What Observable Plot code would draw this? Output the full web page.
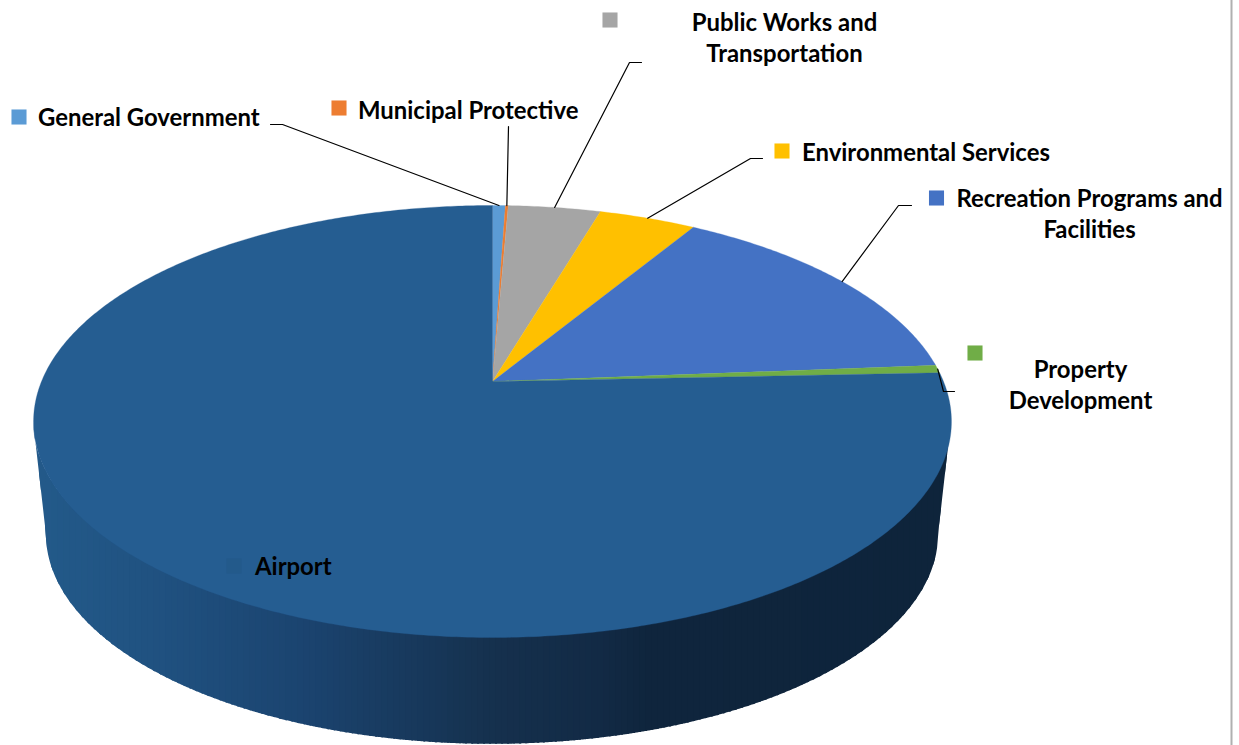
<!DOCTYPE html>
<html>
<head>
<meta charset="utf-8">
<script src="https://cdn.jsdelivr.net/npm/d3@7"></script>
<script src="https://cdn.jsdelivr.net/npm/@observablehq/plot@0.6"></script>
<style>
html,body{margin:0;padding:0;background:#fff;overflow:hidden}
svg{display:block}
</style>
</head>
<body>
<div id="chart"></div>
<script>
// Data: share of the total (percent), clockwise from 12 o'clock
const categories = ["General Government","Municipal Protective","Public Works and\nTransportation","Environmental Services","Recreation Programs and\nFacilities","Property\nDevelopment","Airport"];
const shares = [0.54, 0.12, 3.89, 4.08, 15.12, 0.58, 75.67];
const colors = ["#5B9BD5","#ED7D31","#A5A5A5","#FFC000","#4472C4","#70AD47","#255D91"];
const keyColors = ["#5B9BD5","#ED7D31","#A5A5A5","#FFC000","#4472C4","#70AD47","#235A8B"];

// Layout of the labels (separate from the data)
const labelX = [37.5, 357.5, 784, 801.5, 1089, 1080, 254.5];
const labelY = [115.5, 108.5, 36, 150.5, 212, 383, 564.5];
const labelAnchor = ["start","start","middle","start","middle","middle","start"];
const keyX = [18.5, 338.5, 609.5, 781.5, 936, 974.5, 233.5];
const keyY = [116.5, 107.5, 19.5, 150.5, 197.5, 352.5, 565.5];
const elbowX = [[270,282],[508,508],[641,629],[762,750],[911,898],[954,943],[]];
const elbowY = [[124,124],[126,126],[62,62],[158,158],[205,205],[391,391],[]];

// Perspective disc: apex, half-width, half-height, foreshortening
const cx = 492, apexY = 381, W = 451, H = 208.6, k = 0.1852;
const depthOffset = 114, baseScale = 0.972;
const project = (t, s = 1, dy = 0) => {
  const u = Math.sin(t), v = Math.cos(t), w = 1 + k * v;
  return {x: cx + s * W * u / w, y: apexY + dy - s * H * v / w};
};

const total = d3.sum(shares);
let acc = 0;
const slices = shares.map((v, i) => {
  const a0 = acc / total * 2 * Math.PI; acc += v;
  const a1 = acc / total * 2 * Math.PI;
  return {i, a0, a1, mid: (a0 + a1) / 2, color: colors[i]};
});

// Top-face polygons
const facePts = slices.flatMap(s => {
  const n = Math.max(2, Math.ceil((s.a1 - s.a0) / 0.01));
  const arc = d3.range(n + 1).map(j => project(s.a0 + (s.a1 - s.a0) * j / n));
  return [{x: cx, y: apexY}, ...arc, {x: cx, y: apexY}].map(p => ({...p, z: s.i, c: s.color}));
});

// Side wall: vertical shaded bands painted left to right, each one overlapping the next
const shade = d3.scaleLinear()
  .domain([33, 150, 300, 400, 500, 600, 650, 951])
  .range(["#235A8A", "#205281", "#1B4470", "#183A5E", "#15304D", "#122A45", "#0F253D", "#0E243B"]);
const tR = Math.acos(-k), tL = 2 * Math.PI - tR;
const arcT = d3.range(241).map(j => tL + (tR - tL) * j / 240);
const topArc = arcT.map(t => project(t));
const baseArc = [topArc[0], ...arcT.map(t => project(t, baseScale, depthOffset)), topArc[240]];
const yTop = d3.scaleLinear().domain(topArc.map(p => p.x)).range(topArc.map(p => p.y));
const yBase = d3.scaleLinear().domain(baseArc.map(p => p.x)).range(baseArc.map(p => p.y));
const xMin = topArc[0].x, xMax = topArc[240].x, band = 6;
const bandStarts = d3.range(xMin, xMax, band);
const sidePts = bandStarts.flatMap((x0, j) => {
  const x1 = Math.min(x0 + band + 2, xMax);
  const xs = d3.range(x0, x1, 1).concat([x1]);
  const c = shade(x0 + band / 2);
  return xs.map(x => ({x, y1: yTop(x) - 1, y2: yBase(x), z: j, c}));
});

// Leader lines: elbow from the label down to the slice's mid-angle on the rim
const leaderPts = slices.flatMap(s => {
  if (!elbowX[s.i].length) return [];
  const end = project(s.mid);
  return [
    ...elbowX[s.i].map((x, j) => ({x, y: elbowY[s.i][j]})),
    {x: end.x, y: end.y}
  ].map(p => ({...p, z: s.i}));
});

const labels = categories.map((text, i) => ({text, x: labelX[i], y: labelY[i], anchor: labelAnchor[i]}));
const keys = keyColors.map((c, i) => ({c, x: keyX[i], y: keyY[i]}));

const fontFamily = "Lato, 'Liberation Sans', sans-serif";
const textMark = anchor => Plot.text(labels.filter(d => d.anchor === anchor), {
  x: "x", y: "y", text: "text", textAnchor: anchor, fill: "#000",
  fontFamily, fontWeight: 700, fontSize: 23.9, lineHeight: 31 / 23.9
});

const plot = Plot.plot({
  width: 1239, height: 745, margin: 0,
  x: {domain: [0, 1239], range: [0, 1239], axis: null},
  y: {domain: [0, 745], range: [0, 745], axis: null},
  marks: [
    Plot.ruleX([1231], {stroke: "#B0B0B0", strokeWidth: 2}),
    Plot.areaY(sidePts, {x: "x", y1: "y1", y2: "y2", z: "z", fill: "c", stroke: "none"}),
    Plot.line(facePts, {x: "x", y: "y", z: "z", fill: "c", stroke: "c", strokeWidth: 0.3, curve: "linear-closed"}),
    Plot.line(leaderPts, {x: "x", y: "y", z: "z", stroke: "#000", strokeWidth: 1.2, fill: "none"}),
    Plot.dot(keys, {x: "x", y: "y", fill: "c", symbol: "square", r: 8.5, stroke: "none"}),
    textMark("start"),
    textMark("middle")
  ]
});
document.getElementById("chart").appendChild(plot);
</script>
</body>
</html>
